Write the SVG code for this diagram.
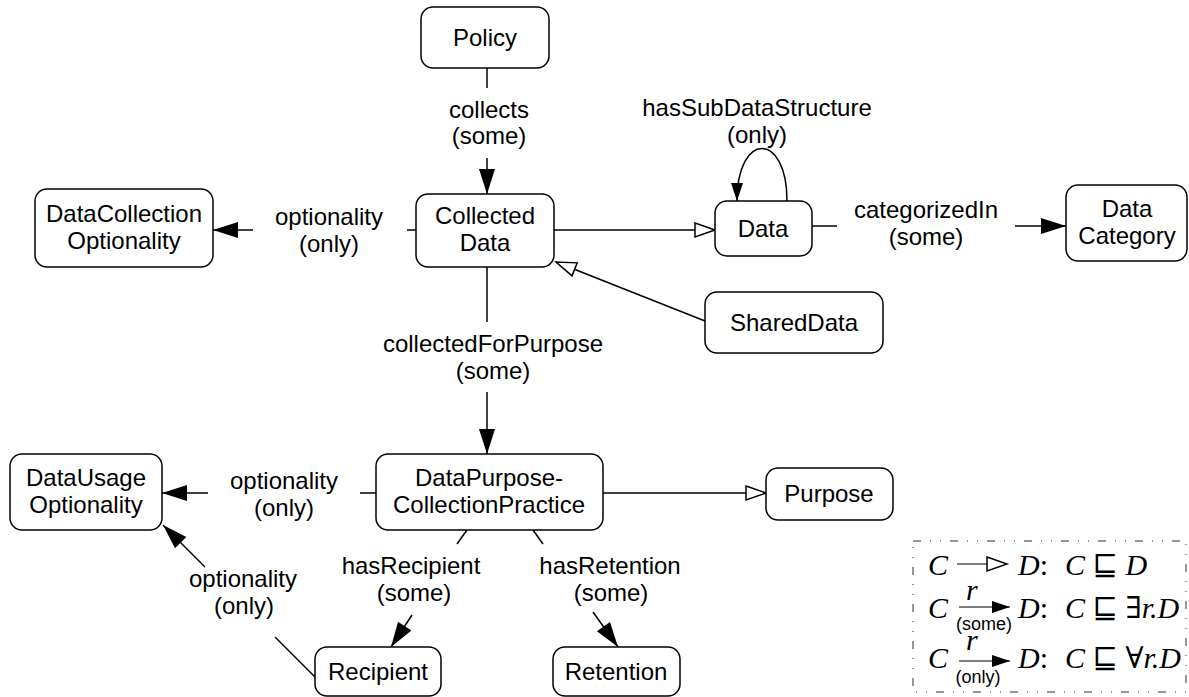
<svg xmlns="http://www.w3.org/2000/svg" width="1189" height="697" viewBox="0 0 1189 697">
<style>
.node rect{fill:#fff;stroke:#000;stroke-width:1.5}
.t{font-family:"Liberation Sans",Arial,sans-serif;font-size:24px;fill:#000;text-anchor:middle}
.e{fill:none;stroke:#000;stroke-width:1.5}
.m{font-family:"Liberation Serif","DejaVu Serif",serif;font-size:30px;font-style:italic;fill:#000}
.mu{font-style:normal}
.s{font-family:"Liberation Sans",Arial,sans-serif;font-size:18px;fill:#000;text-anchor:middle}
</style>
<defs>
<marker id="fa" markerUnits="userSpaceOnUse" markerWidth="26" markerHeight="18" refX="25" refY="8" orient="auto" overflow="visible">
<path d="M0,0 L25,8 L0,16 z" fill="#000"/>
</marker>
<marker id="fs" markerUnits="userSpaceOnUse" markerWidth="20" markerHeight="14" refX="18" refY="6" orient="auto" overflow="visible">
<path d="M0,0 L18,6 L0,12 z" fill="#000"/>
</marker>
<marker id="ha" markerUnits="userSpaceOnUse" markerWidth="22" markerHeight="16" refX="20" refY="7" orient="auto" overflow="visible">
<path d="M0,0 L20,7 L0,14 z" fill="#fff" stroke="#000" stroke-width="1.5"/>
</marker>
</defs>

<g id="connectors">
<path class="e" d="M487 68 L487 88"/>
<path class="e" d="M487 158 L487 194" marker-end="url(#fa)"/>
<text class="t" x="489" y="118">collects</text>
<text class="t" x="489" y="144">(some)</text>

<path class="e" d="M416 230 L407 230"/>
<path class="e" d="M253 230 L213 230" marker-end="url(#fa)"/>
<text class="t" x="329" y="225">optionality</text>
<text class="t" x="329" y="252">(only)</text>

<path class="e" d="M554 230 L715 230" marker-end="url(#ha)"/>

<path class="e" d="M787 201 C787 131 737 131 737 201" marker-end="url(#fs)"/>
<text class="t" x="757" y="116">hasSubDataStructure</text>
<text class="t" x="757" y="143">(only)</text>

<path class="e" d="M812 226 L837 226"/>
<path class="e" d="M1015 226 L1066 226" marker-end="url(#fa)"/>
<text class="t" x="926" y="218">categorizedIn</text>
<text class="t" x="926" y="245">(some)</text>

<path class="e" d="M705 321 L556 262" marker-end="url(#ha)"/>

<path class="e" d="M487 267 L487 322"/>
<path class="e" d="M487 392 L487 454" marker-end="url(#fa)"/>
<text class="t" x="493" y="352">collectedForPurpose</text>
<text class="t" x="493" y="379">(some)</text>

<path class="e" d="M376 493 L360 493"/>
<path class="e" d="M208 493 L162 493" marker-end="url(#fa)"/>
<text class="t" x="284" y="489">optionality</text>
<text class="t" x="284" y="516">(only)</text>

<path class="e" d="M603 493 L766 493" marker-end="url(#ha)"/>

<path class="e" d="M467 530 L457 544"/>
<path class="e" d="M412 615 L391 647" marker-end="url(#fa)"/>
<text class="t" x="411" y="574">hasRecipient</text>
<text class="t" x="414" y="601">(some)</text>

<path class="e" d="M533 530 L543 544"/>
<path class="e" d="M593 612 L618 647" marker-end="url(#fa)"/>
<text class="t" x="610" y="574">hasRetention</text>
<text class="t" x="611" y="601">(some)</text>

<path class="e" d="M315 677 L275 637"/>
<path class="e" d="M205 567 L163 525" marker-end="url(#fa)"/>
<text class="t" x="243" y="587">optionality</text>
<text class="t" x="244" y="614">(only)</text>
</g>

<g id="policy" class="node"><rect x="421" y="7" width="128" height="61" rx="12"/><text class="t" x="485" y="46">Policy</text></g>
<g id="collected-data" class="node"><rect x="416" y="194" width="138" height="73" rx="12"/><text class="t" x="485" y="224">Collected</text><text class="t" x="485" y="251">Data</text></g>
<g id="data-collection-optionality" class="node"><rect x="35" y="189" width="178" height="78" rx="12"/><text class="t" x="124" y="222">DataCollection</text><text class="t" x="124" y="249">Optionality</text></g>
<g id="data" class="node"><rect x="715" y="201" width="97" height="55" rx="12"/><text class="t" x="763" y="237">Data</text></g>
<g id="data-category" class="node"><rect x="1066" y="185" width="121" height="76" rx="12"/><text class="t" x="1127" y="217">Data</text><text class="t" x="1127" y="244">Category</text></g>
<g id="shared-data" class="node"><rect x="705" y="292" width="178" height="61" rx="12"/><text class="t" x="794" y="331">SharedData</text></g>
<g id="data-usage-optionality" class="node"><rect x="10" y="454" width="152" height="76" rx="12"/><text class="t" x="86" y="486">DataUsage</text><text class="t" x="86" y="513">Optionality</text></g>
<g id="data-purpose-collection-practice" class="node"><rect x="376" y="454" width="227" height="76" rx="12"/><text class="t" x="489" y="486">DataPurpose-</text><text class="t" x="489" y="513">CollectionPractice</text></g>
<g id="purpose" class="node"><rect x="766" y="468" width="127" height="52" rx="12"/><text class="t" x="829" y="502">Purpose</text></g>
<g id="recipient" class="node"><rect x="315" y="647" width="126" height="49" rx="12"/><text class="t" x="378" y="680">Recipient</text></g>
<g id="retention" class="node"><rect x="553" y="647" width="127" height="49" rx="12"/><text class="t" x="616" y="680">Retention</text></g>

<g id="legend">
<rect x="913" y="541" width="273" height="151" fill="none" stroke="#333" stroke-width="1" stroke-dasharray="8 9 1 9 1 9"/>
<text class="m" x="928" y="575">C</text>
<path class="e" d="M957 564 L1007 564" marker-end="url(#ha)" style="stroke-width:1.2"/>
<text class="m" x="1018" y="575">D<tspan class="mu">:</tspan></text>
<text class="m" x="1065" y="575">C <tspan class="mu">⊑</tspan> D</text>

<text class="m" x="928" y="618">C</text>
<text class="m" x="966" y="600">r</text>
<path class="e" d="M959 607 L1010 607" marker-end="url(#fs)" style="stroke-width:1.2"/>
<text class="s" x="984" y="630">(some)</text>
<text class="m" x="1018" y="618">D<tspan class="mu">:</tspan></text>
<text class="m" x="1065" y="618">C <tspan class="mu">⊑ ∃</tspan>r.D</text>

<text class="m" x="928" y="668">C</text>
<text class="m" x="966" y="650">r</text>
<path class="e" d="M959 661 L1010 661" marker-end="url(#fs)" style="stroke-width:1.2"/>
<text class="s" x="978" y="683">(only)</text>
<text class="m" x="1018" y="668">D<tspan class="mu">:</tspan></text>
<text class="m" x="1065" y="668">C <tspan class="mu">⊑ ∀</tspan>r.D</text>
</g>
</svg>
